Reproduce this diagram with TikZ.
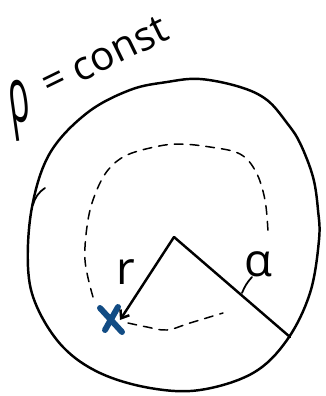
\documentclass[tikz,border=0pt]{standalone}
\usepackage{fontspec}
\setmainfont{Open Sans}
\usetikzlibrary{arrows.meta,positioning}
\definecolor{markblue}{RGB}{18,76,132}

\begin{document}
\begin{tikzpicture}[
  x=0.02cm, y=-0.02cm,
  pen/.style={line width=1.4pt, line cap=round, line join=round},
  dashpen/.style={line width=0.85pt, line cap=round, dash pattern=on 5pt off 4pt},
  hand/.style={inner sep=0pt, font=\fontsize{26}{30}\selectfont},
  arr/.style={-{Straight Barb[length=4pt,width=6pt]}, pen}
]
\useasboundingbox (0,0) rectangle (325,396);
% labels
\node[hand, rotate=8, xscale=0.45, font=\fontsize{44}{48}\selectfont] (rho) at (20,110) {ρ};
\node[hand, rotate=26, anchor=base west, font=\fontsize{23}{27}\selectfont] (const) at (49,98) {= const};
% big circle
\draw[pen] plot[smooth cycle, tension=0.6] coordinates {
  (200,79) (240,87) (267,100) (287,123) (300,143) (313,177) (318,210)
  (319,240) (310,293) (287,340) (253,373) (200,390) (150,388) (100,373)
  (63,347) (37,307) (28,267) (32,207) (50,153) (87,113) (130,90) (167,82)};
\draw[pen, line width=1pt] (33,205) to[bend left=20] (45,188);
% path of the point
\draw[dashpen] plot[smooth, tension=0.6] coordinates {
  (128,323) (147,327) (167,330) (190,323) (223,313)};
\draw[dashpen] plot[smooth, tension=0.6] coordinates {
  (93,297) (85,260) (88,220) (96,192) (108,170) (125,156) (150,148) (177,144)
  (210,147) (240,154) (256,172) (265,200) (268,232)};
% centre, point and radii
\coordinate (O) at (174,237);
\coordinate (A) at (290,337);
\coordinate (X) at (111,319);
\draw[line width=3.4pt, markblue, line cap=round]
  (X) ++(-11,-11) -- ++(22,24) (X) ++(7,-12) -- ++(-13,23);
\draw[arr] (O) -- (120,320) coordinate (tip);
\draw[pen] (O) -- (A);
\node[hand] (r) at (126,272) {r};
\node[hand] (alpha) at (258,264) {α};
\draw[pen, line width=1pt] (242,293) to[bend left=10] (252,277);
\end{tikzpicture}
\end{document}
